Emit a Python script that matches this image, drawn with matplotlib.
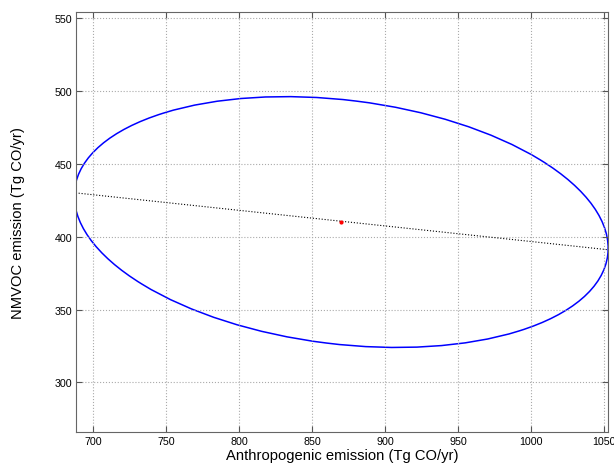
import numpy as np
import matplotlib
matplotlib.use('Agg')
import matplotlib.pyplot as plt
from matplotlib.patches import Ellipse

plt.rcParams['font.family'] = ['Liberation Sans', 'DejaVu Sans']

# best estimate and spread of the two emissions
center = [870, 410]
sd_x = 183.0
sd_y = 86.0
rho = -0.209

# dotted regression line ends
line_x = [688, 1053]
line_y = [430, 391]

x_ticks = [700, 750, 800, 850, 900, 950, 1000, 1050]
y_ticks = [300, 350, 400, 450, 500, 550]

cov = np.array([[sd_x**2, rho * sd_x * sd_y],
                [rho * sd_x * sd_y, sd_y**2]])
vals, vecs = np.linalg.eigh(cov)
angle = np.degrees(np.arctan2(vecs[1, 1], vecs[0, 1]))

fig = plt.figure(figsize=(6.14, 4.64), dpi=100)
ax = fig.add_axes([0.124, 0.0668, 0.866, 0.905])

ell = Ellipse(center, 2 * np.sqrt(vals[1]), 2 * np.sqrt(vals[0]), angle=angle,
              fill=False, edgecolor='#0000ff', linewidth=1.1)
ax.add_patch(ell)
ax.plot(line_x, line_y, color='black', linestyle=':', linewidth=0.8)
ax.plot(center[0], center[1], '.', color='red', markersize=4)

ax.set_xlim(688.3, 1052.8)
ax.set_ylim(266, 554)
ax.set_xticks(x_ticks)
ax.set_yticks(y_ticks)
ax.grid(True, linestyle=':', color='#aaaaaa', linewidth=0.8)
ax.tick_params(direction='in', length=4, top=True, right=True, labelsize=7.7,
               color='#555555', pad=3)
for s in ax.spines.values():
    s.set_color('#666666')

ax.set_xlabel('Anthropogenic emission (Tg CO/yr)', fontsize=10.6, labelpad=1)
ax.set_ylabel('NMVOC emission (Tg CO/yr)', fontsize=10.6, labelpad=21)

fig.savefig('out.png', dpi=100)
